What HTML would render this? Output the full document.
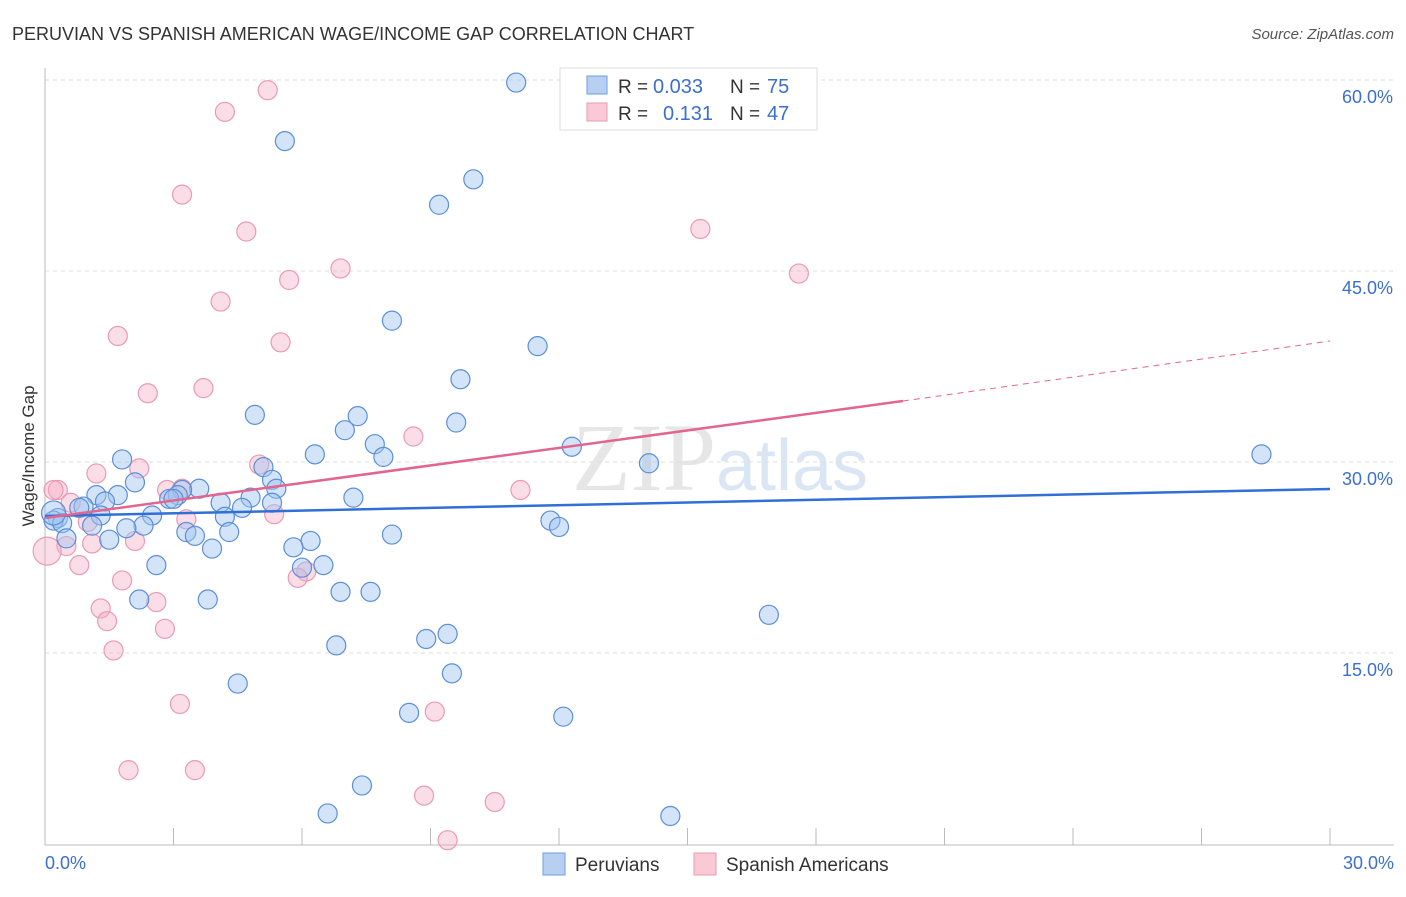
<!DOCTYPE html>
<html><head><meta charset="utf-8"><style>
body{margin:0;background:#fff;font-family:"Liberation Sans",sans-serif}
</style></head><body>
<svg id="chart" width="1406" height="892" xmlns="http://www.w3.org/2000/svg" font-family="Liberation Sans, sans-serif">
<text x="12" y="40" font-size="18" fill="#333">PERUVIAN VS SPANISH AMERICAN WAGE/INCOME GAP CORRELATION CHART</text>
<text x="1394" y="39" font-size="15" fill="#555" text-anchor="end" font-style="italic">Source: ZipAtlas.com</text>
<text x="720" y="490" font-size="96" fill="#e6e6e6" text-anchor="middle" font-family="Liberation Serif, serif">ZIP<tspan fill="#dbe6f5" font-family="Liberation Sans, sans-serif" font-size="72">atlas</tspan></text>
<g id="grid"></g>
<g id="axes"></g>
<g id="marks"></g>
<text transform="translate(34,456) rotate(-90)" font-size="17" fill="#333" text-anchor="middle">Wage/Income Gap</text>
<g>
<rect x="560" y="68" width="257" height="62" fill="#fff" stroke="#ddd"/>
<rect x="587" y="76" width="20" height="18" fill="#b7d0f2" stroke="#6d9de0"/>
<rect x="587" y="103" width="20" height="18" fill="#f9c9d6" stroke="#eb9ab2"/>
<text x="618" y="93" font-size="19" fill="#333">R =</text>
<text x="653" y="93" font-size="20" fill="#3a6fd0">0.033</text>
<text x="730" y="93" font-size="19" fill="#333">N =</text>
<text x="767" y="93" font-size="20" fill="#3a6fd0">75</text>
<text x="618" y="120" font-size="19" fill="#333">R =</text>
<text x="663" y="120" font-size="20" fill="#3a6fd0">0.131</text>
<text x="730" y="120" font-size="19" fill="#333">N =</text>
<text x="767" y="120" font-size="20" fill="#3a6fd0">47</text>
</g>
<g>
<rect x="543" y="853" width="22" height="22" fill="#b7d0f2" stroke="#6d9de0"/>
<text x="575" y="871" font-size="19" fill="#333">Peruvians</text>
<rect x="694" y="853" width="22" height="22" fill="#f9c9d6" stroke="#eb9ab2"/>
<text x="726" y="871" font-size="19" fill="#333">Spanish Americans</text>
</g>
</svg>
<script>
const blueX=[11.0,5.6,10.0,9.2,8.1,11.5,9.7,4.9,7.3,9.6,7.0,7.7,12.3,6.3,7.9,14.1,28.4,1.8,5.1,5.3,2.1,5.4,3.6,3.2,1.2,1.7,3.1,4.8,7.2,2.9,3.0,1.4,4.1,4.6,5.3,0.9,0.8,2.5,1.3,4.2,0.3,0.2,0.4,0.2,1.1,2.3,1.9,3.3,4.3,3.5,11.8,12.0,6.2,1.5,0.5,5.8,3.9,8.1,2.6,6.5,6.0,6.9,7.6,2.2,3.8,16.9,9.4,8.9,6.8,9.5,4.5,8.5,12.1,7.4,6.6,14.6];
const blueY=[59.8,55.2,52.2,50.2,41.1,39.1,36.5,33.7,33.6,33.1,32.5,31.4,31.2,30.6,30.4,29.9,30.6,30.2,29.6,28.6,28.4,27.9,27.9,27.8,27.4,27.4,27.4,27.2,27.2,27.1,27.1,26.9,26.8,26.4,26.8,26.5,26.4,25.8,25.8,25.7,25.6,25.4,25.2,26.0,25.0,25.0,24.8,24.5,24.5,24.2,25.4,24.9,23.8,23.9,24.0,23.3,23.2,24.3,21.9,21.9,21.7,19.8,19.8,19.2,19.2,18.0,16.5,16.1,15.6,13.4,12.6,10.3,10.0,4.6,2.4,2.2];
const pinkX=[5.2,4.2,3.2,4.7,15.3,6.9,17.6,5.7,4.1,1.7,5.5,2.4,3.7,8.6,5.0,1.2,2.2,0.3,0.6,0.2,3.2,2.85,5.35,3.3,1.0,11.1,0.5,1.1,2.1,0.05,0.8,1.8,6.1,5.9,1.3,2.6,1.45,2.8,1.6,3.15,9.1,1.95,3.5,8.85,10.5,9.4];
const pinkY=[59.2,57.5,51.0,48.1,48.3,45.2,44.8,44.3,42.6,39.9,39.4,35.4,35.8,32.0,29.8,29.1,29.5,27.8,26.8,27.8,27.9,27.8,25.9,25.5,25.3,27.8,23.4,23.6,23.8,23.0,21.9,20.7,21.4,20.9,18.5,19.0,17.5,16.9,15.2,11.0,10.4,5.8,5.8,3.8,3.3,0.3];
const blueTrend=[25.76,27.88];
const pinkTrend=[25.6,34.79,39.5];
const pinkSolidEnd=20.03;
const yTicks=[15,30,45,60];
const xTickLabels=["0.0%","30.0%"];
const NS="http://www.w3.org/2000/svg";
const sx=v=>45+v/30*1285, sy=v=>844-v/15*191;
function mk(p,t,a){const e=document.createElementNS(NS,t);for(const k in a)e.setAttribute(k,a[k]);p.appendChild(e);return e;}
const grid=document.getElementById('grid'),axes=document.getElementById('axes'),marks=document.getElementById('marks');
yTicks.forEach(v=>{
 const l=mk(grid,'line',{x1:45,x2:1394,y1:sy(v),y2:sy(v),stroke:'#ddd','stroke-dasharray':'4,4'});
 
 
 const t=mk(axes,'text',{x:1393,y:sy(v)+23,'font-size':18,fill:'#3a6fd0','text-anchor':'end'});
 t.textContent=v.toFixed(1)+'%';
 
 
});
mk(axes,'line',{x1:45,x2:45,y1:68,y2:845,stroke:'#bbb'});
mk(axes,'line',{x1:45,x2:1394,y1:845,y2:845,stroke:'#bbb'});
for(let i=0;i<=10;i++){const x=sx(i*3);const l=mk(axes,'line',{x1:x,x2:x,y1:828,y2:845,stroke:'#bbb'});
 
 }
const t0=mk(axes,'text',{x:45,y:869,'font-size':18,fill:'#3a6fd0'});t0.textContent=xTickLabels[0];


const t1=mk(axes,'text',{x:1394,y:869,'font-size':18,fill:'#3a6fd0','text-anchor':'end'});t1.textContent=xTickLabels[1];


pinkX.forEach((x,i)=>{const c=mk(marks,'circle',{cx:sx(x),cy:sy(pinkY[i]),r:i==29?14:9.5,fill:'rgba(245,170,195,0.4)',stroke:'#eb9ab2','stroke-width':1.2});
 
 });
blueX.forEach((x,i)=>{const c=mk(marks,'circle',{cx:sx(x),cy:sy(blueY[i]),r:i==43?12:9.5,fill:'rgba(160,195,240,0.45)',stroke:'#5b8fd9','stroke-width':1.2});
 
 });
const bl=mk(marks,'line',{x1:sx(0),y1:sy(blueTrend[0]),x2:sx(30),y2:sy(blueTrend[1]),stroke:'#2f6fd6','stroke-width':2.5});


const pl=mk(marks,'line',{x1:sx(0),y1:sy(pinkTrend[0]),x2:sx(pinkSolidEnd),y2:sy(pinkTrend[1]),stroke:'#e2658f','stroke-width':2.5});


const pd=mk(marks,'line',{x1:sx(pinkSolidEnd),y1:sy(pinkTrend[1]),x2:sx(30),y2:sy(pinkTrend[2]),stroke:'#e2658f','stroke-width':1,'stroke-dasharray':'6,5'});


</script>
</body></html>
